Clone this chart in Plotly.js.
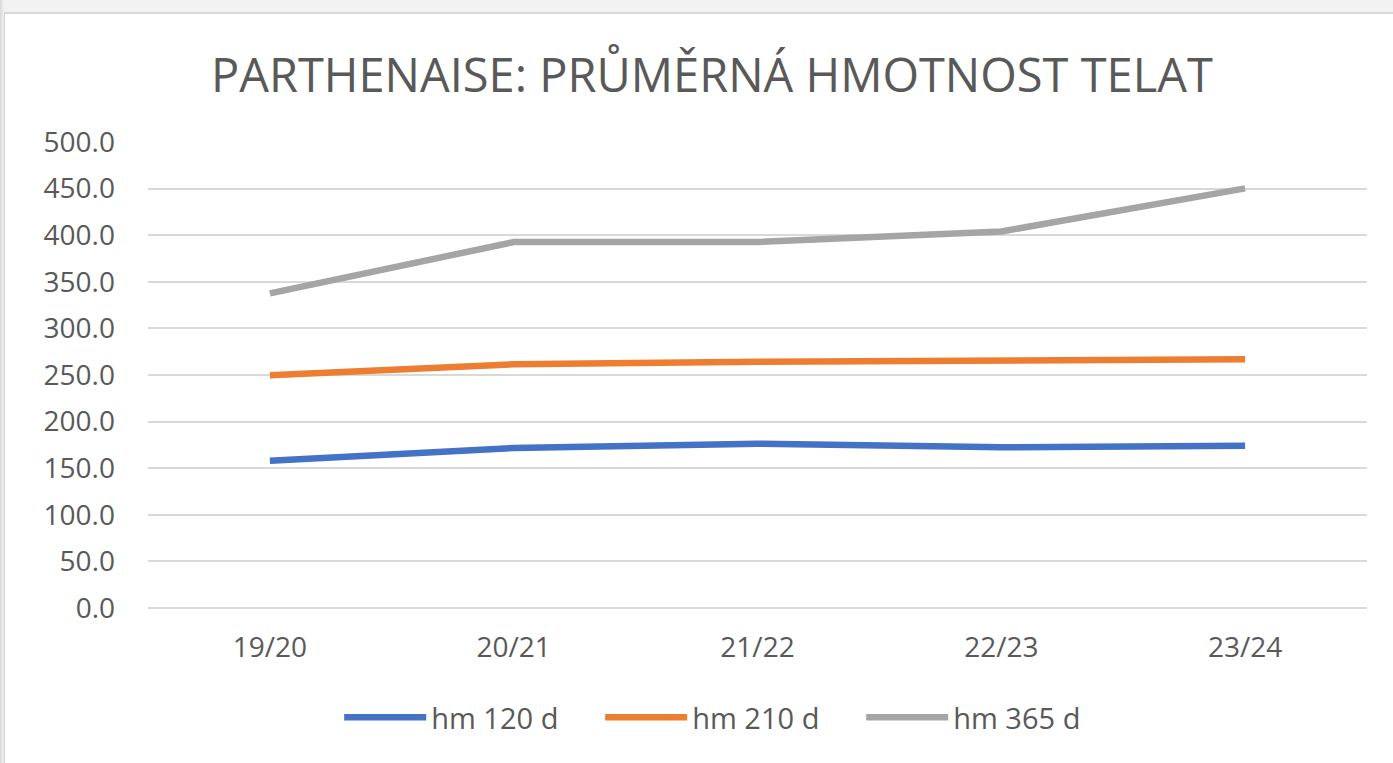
<!DOCTYPE html>
<html>
<head>
<meta charset="utf-8">
<script src="https://cdn.plot.ly/plotly-3.0.1.min.js"></script>
<style>
  html, body { margin: 0; padding: 0; width: 1393px; height: 763px; overflow: hidden;
    background: linear-gradient(to right, #d8d8d8 0px, #f2f2f2 4px, #f2f2f2 100%); }
  #chart { position: absolute; left: 4px; top: 12px; width: 1389px; height: 751px;
    background: #ffffff; border-top: 2px solid #d9d9d9; border-left: 1px solid #d0d0d0; box-sizing: border-box; }
</style>
</head>
<body>
<div id="chart"></div>
<script>
const categories = ["19/20", "20/21", "21/22", "22/23", "23/24"];
const hm120 = [158.0, 171.7, 176.3, 172.4, 174.2];
const hm210 = [249.7, 261.5, 264.3, 265.8, 266.9];
const hm365 = [337.6, 392.6, 392.8, 404.0, 450.2];
const seriesNames = ["hm 120 d", "hm 210 d", "hm 365 d"];
const yTicks = [0, 50, 100, 150, 200, 250, 300, 350, 400, 450, 500];

const colors = ["#4472C4", "#ED7D31", "#A5A5A5"];
const allSeries = [hm120, hm210, hm365];

const traces = allSeries.map((vals, i) => ({
  type: "scatter",
  mode: "lines",
  x: categories,
  y: vals,
  name: seriesNames[i],
  line: { color: colors[i], width: 6.5 },
  hoverinfo: "x+y+name"
}));

const layout = {
  width: 1386,
  height: 749,
  paper_bgcolor: "#ffffff",
  plot_bgcolor: "#ffffff",
  margin: { l: 143, r: 24, t: 128, b: 155 },
  title: {
    text: "PARTHENAISE: PRŮMĚRNÁ HMOTNOST TELAT",
    font: { family: "Open Sans, sans-serif", size: 47, color: "#595959" },
    x: 0.51, xanchor: "center",
    y: 0.918, yanchor: "middle"
  },
  font: { family: "Open Sans, sans-serif", color: "#595959" },
  xaxis: {
    type: "category",
    range: [-0.5, 4.5],
    showgrid: false,
    zeroline: false,
    showline: false,
    ticks: "",
    tickfont: { size: 28, color: "#595959" },
    ticklabelstandoff: 20
  },
  yaxis: {
    range: [0, 500],
    tickvals: yTicks,
    ticktext: yTicks.map(v => v.toFixed(1)),
    showgrid: true,
    gridcolor: "#d9d9d9",
    gridwidth: 2,
    zeroline: true,
    zerolinecolor: "#d9d9d9",
    zerolinewidth: 2,
    showline: false,
    ticks: "",
    tickfont: { size: 28, color: "#595959" },
    ticklabelstandoff: 32
  },
  showlegend: true,
  legend: {
    orientation: "h",
    x: 0.478, xanchor: "center",
    y: -0.235, yanchor: "middle",
    font: { size: 29, color: "#595959" },
    itemwidth: 82,
    entrywidth: 164,
    entrywidthmode: "pixels",
    traceorder: "normal"
  }
};

Plotly.newPlot("chart", traces, layout, { displayModeBar: false, staticPlot: true });
</script>
</body>
</html>
